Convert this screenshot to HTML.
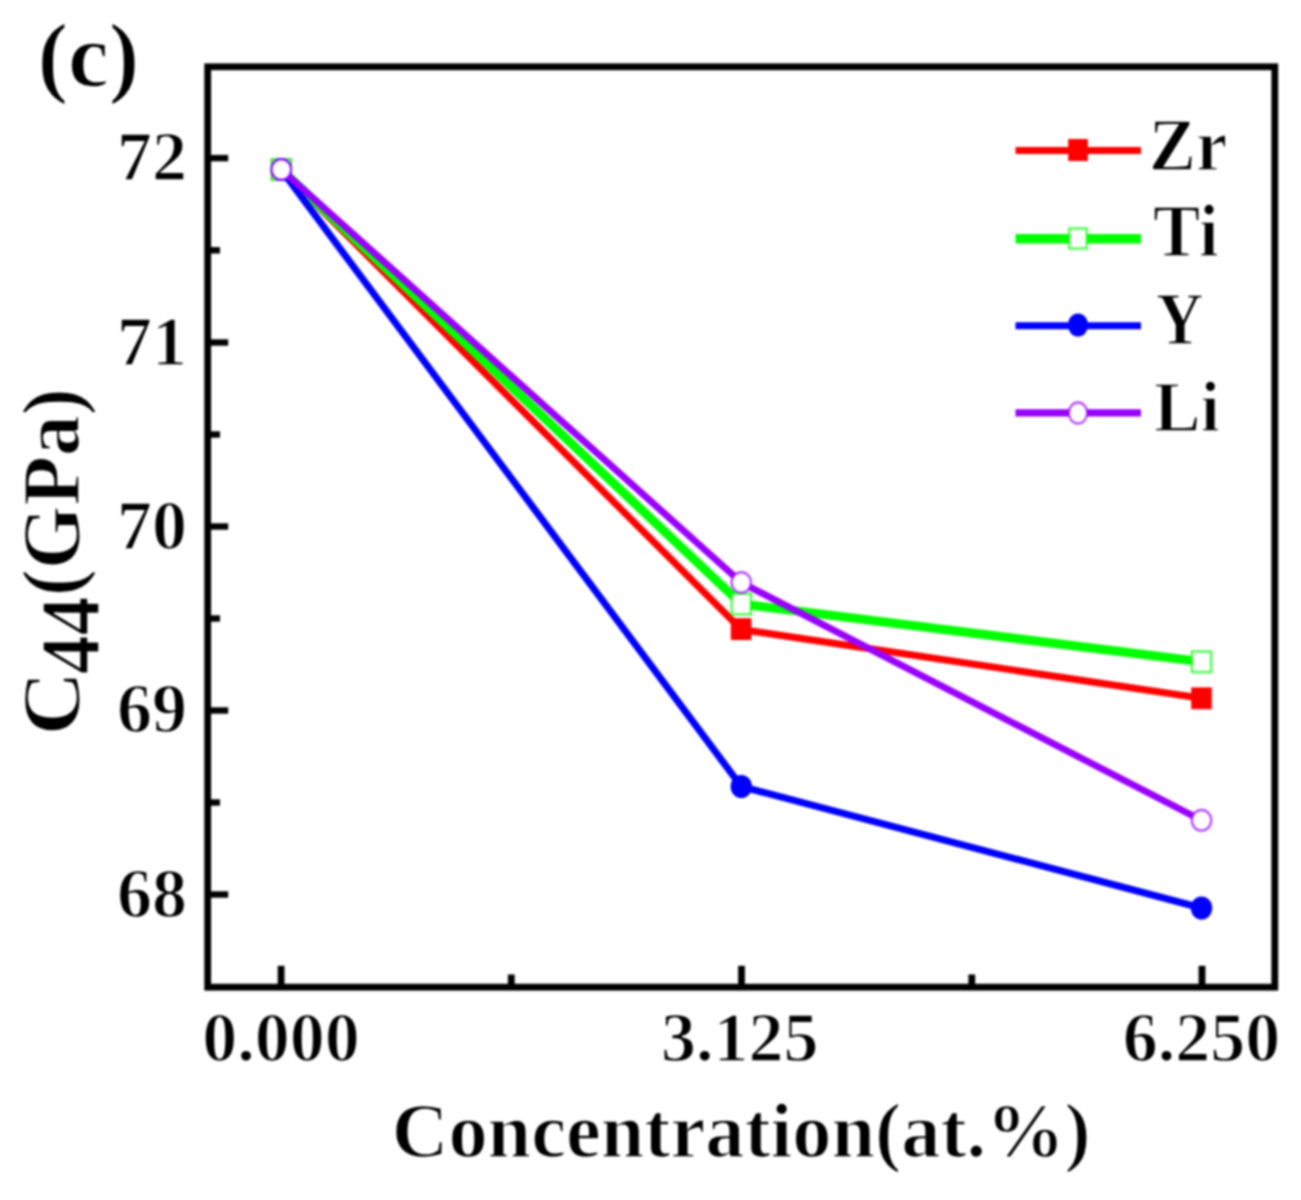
<!DOCTYPE html>
<html>
<head>
<meta charset="utf-8">
<title>C44 vs Concentration</title>
<style>
html,body{margin:0;padding:0;background:#ffffff;}
body{width:1301px;height:1200px;overflow:hidden;font-family:"Liberation Serif",serif;}
svg{display:block;filter:blur(0.8px);}
text{font-family:"Liberation Serif",serif;font-weight:bold;fill:#000;stroke:#fff;stroke-width:1.5px;}
</style>
</head>
<body>
<svg width="1301" height="1200" viewBox="0 0 1301 1200">
<rect x="0" y="0" width="1301" height="1200" fill="#ffffff"/>

<!-- panel label -->
<text transform="translate(37.5,86) scale(1.02,1)" font-size="90">(c)</text>

<!-- frame -->
<rect x="207.7" y="66.8" width="1067.1" height="920.4" fill="none" stroke="#000" stroke-width="6.8"/>

<!-- y major ticks -->
<g stroke="#000" stroke-width="6.4">
<line x1="208" y1="158.1" x2="228.2" y2="158.1"/>
<line x1="208" y1="342.5" x2="228.2" y2="342.5"/>
<line x1="208" y1="526.5" x2="228.2" y2="526.5"/>
<line x1="208" y1="710.5" x2="228.2" y2="710.5"/>
<line x1="208" y1="894.5" x2="228.2" y2="894.5"/>
<!-- minor -->
<line x1="208" y1="250.3" x2="220" y2="250.3"/>
<line x1="208" y1="434.5" x2="220" y2="434.5"/>
<line x1="208" y1="618.5" x2="220" y2="618.5"/>
<line x1="208" y1="802.5" x2="220" y2="802.5"/>
<!-- x major -->
<line x1="281.1" y1="987" x2="281.1" y2="965.8" stroke-width="6.8"/>
<line x1="741.5" y1="987" x2="741.5" y2="965.8" stroke-width="6.8"/>
<line x1="1202" y1="987" x2="1202" y2="965.8" stroke-width="6.8"/>
<!-- x minor -->
<line x1="511.3" y1="987" x2="511.3" y2="974.5" stroke-width="6.8"/>
<line x1="971.8" y1="987" x2="971.8" y2="974.5" stroke-width="6.8"/>
</g>

<!-- y tick labels -->
<g font-size="70" text-anchor="end">
<text x="187" y="180">72</text>
<text x="187" y="364.5">71</text>
<text x="187" y="548.5">70</text>
<text x="187" y="732">69</text>
<text x="187" y="916.5">68</text>
</g>

<!-- x tick labels -->
<g font-size="70" text-anchor="middle">
<text x="281" y="1061">0.000</text>
<text x="739.7" y="1061">3.125</text>
<text x="1201.5" y="1061">6.250</text>
</g>

<!-- axis titles -->
<text x="741.2" y="1157" font-size="78.4" text-anchor="middle">Concentration(at.%)</text>
<g transform="translate(78.5,735.5) rotate(-90)"><text x="0" y="0" font-size="82" transform="scale(1.09,1)">C</text></g>
<g transform="translate(99,674.3) rotate(-90)"><text x="0" y="0" font-size="85" transform="scale(0.915,1)">44</text></g>
<g transform="translate(79,596.3) rotate(-90)"><text x="0" y="0" font-size="81.5">(GPa)</text></g>

<!-- series: Zr -->
<g>
<polyline points="281.3,169.5 741.3,629.5 1201.5,698.3" fill="none" stroke="#ff0000" stroke-width="7" stroke-linejoin="round"/>
<g fill="#ff0000">
<rect x="271" y="158.7" width="20.6" height="21.8"/>
<rect x="730.8" y="618.2" width="20.6" height="21.8"/>
<rect x="1191.2" y="687.4" width="20.6" height="21.8"/>
</g>
</g>
<!-- Ti -->
<g>
<polyline points="281.3,169.5 741.3,604 1201.5,661.8" fill="none" stroke="#00ff00" stroke-width="9" stroke-linejoin="round"/>
<g fill="#ffffff" stroke="#00ff00" stroke-opacity="0.7" stroke-width="2.4">
<rect x="271.7" y="159.2" width="19.2" height="20.6"/>
<rect x="731.7" y="593.8" width="19.2" height="20.6"/>
<rect x="1191.9" y="651.5" width="19.2" height="20.6"/>
</g>
</g>
<!-- Y -->
<g>
<polyline points="281,169.5 741.3,786.5 1201.5,908" fill="none" stroke="#0000ff" stroke-width="7" stroke-linejoin="round"/>
<g fill="#0000ff">
<ellipse cx="281.3" cy="169.5" rx="10.7" ry="11.6"/>
<ellipse cx="741.3" cy="786.5" rx="10.7" ry="11.6"/>
<ellipse cx="1201.5" cy="908" rx="10.7" ry="11.6"/>
</g>
</g>
<!-- Li -->
<g>
<polyline points="281.3,169.5 741.3,582.5 1201.5,820.3" fill="none" stroke="#9900ff" stroke-width="6.9" stroke-linejoin="round"/>
<g fill="#ffffff" stroke="#9900ff" stroke-opacity="0.7" stroke-width="2.4">
<ellipse cx="281.3" cy="169.5" rx="9.7" ry="10.3"/>
<ellipse cx="741.3" cy="582.5" rx="9.7" ry="10.3"/>
<ellipse cx="1201.5" cy="820.3" rx="9.7" ry="10.3"/>
</g>
</g>

<!-- legend -->
<g>
<line x1="1015.5" y1="150.6" x2="1141" y2="150.6" stroke="#ff0000" stroke-width="7"/>
<rect x="1068.2" y="139" width="19.6" height="22" fill="#ff0000"/>
<line x1="1015.5" y1="238.8" x2="1141" y2="238.8" stroke="#00ff00" stroke-width="9.5"/>
<rect x="1069.2" y="228.5" width="17.6" height="20" fill="#fff" stroke="#00ff00" stroke-opacity="0.7" stroke-width="2.4"/>
<line x1="1015.5" y1="325.7" x2="1141" y2="325.7" stroke="#0000ff" stroke-width="7"/>
<ellipse cx="1078" cy="325" rx="10.2" ry="11.5" fill="#0000ff"/>
<line x1="1015.5" y1="412.8" x2="1141" y2="412.8" stroke="#9900ff" stroke-width="7.2"/>
<ellipse cx="1078" cy="413" rx="9.2" ry="10.5" fill="#fff" stroke="#9900ff" stroke-opacity="0.7" stroke-width="2.4"/>
<g font-size="74">
<text transform="translate(1149,170) scale(0.95,1)">Zr</text>
<text transform="translate(1153,255.5) scale(0.97,1)" font-size="73">Ti</text>
<text transform="translate(1156,344) scale(0.9,1)" font-size="73">Y</text>
<text transform="translate(1154,431) scale(0.97,1)" font-size="72">Li</text>
</g>
</g>
</svg>
</body>
</html>
